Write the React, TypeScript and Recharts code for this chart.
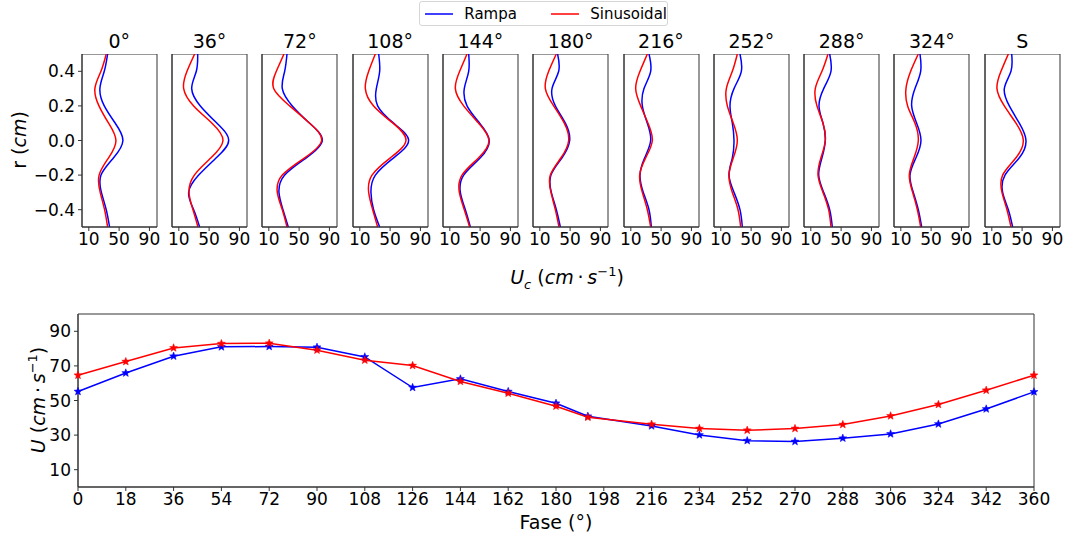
import React from "react";
import {
  LineChart,
  Line,
  XAxis,
  YAxis,
  ReferenceArea,
} from "recharts";

// radial positions (cm), shared by every profile
const RADII = [0.5, 0.4, 0.3, 0.2, 0.1, 0, -0.1, -0.2, -0.3, -0.4, -0.5];

const PHASE_TITLES = ["0°", "36°", "72°", "108°", "144°", "180°", "216°", "252°", "288°", "324°", "S"];

// Uc profiles (cm/s) per phase, top (r=0.5) to bottom (r=-0.5)
const RAMPA_0 = [34.8, 30.4, 24.6, 30.4, 44.9, 55.0, 42.7, 26.1, 26.6, 33.0, 37.4];
const SINUS_0 = [33.0, 26.0, 18.0, 23.4, 36.1, 45.8, 36.1, 23.6, 25.0, 30.8, 34.8];
const RAMPA_36 = [34.9, 33.1, 27.0, 38.4, 60.4, 75.8, 59.5, 36.2, 23.0, 29.6, 37.5];
const SINUS_36 = [30.9, 20.8, 16.4, 29.6, 53.8, 68.3, 52.5, 30.5, 23.4, 28.7, 35.3];
const RAMPA_72 = [34.0, 30.9, 27.8, 41.0, 63.9, 80.6, 59.5, 30.9, 23.4, 28.7, 35.7];
const SINUS_72 = [30.0, 19.9, 16.4, 37.5, 63.9, 79.7, 57.3, 27.8, 21.2, 27.8, 34.0];
const RAMPA_108 = [34.9, 36.2, 31.8, 33.5, 54.6, 74.4, 54.6, 30.5, 24.7, 28.2, 36.2];
const SINUS_108 = [30.5, 21.7, 17.3, 28.2, 53.8, 70.9, 50.3, 26.1, 21.7, 27.0, 33.5];
const RAMPA_144 = [34.9, 34.9, 29.1, 32.7, 49.4, 62.1, 50.3, 28.3, 23.9, 30.5, 37.1];
const SINUS_144 = [32.7, 23.0, 17.3, 28.3, 48.1, 61.7, 48.1, 26.1, 22.6, 29.1, 36.2];
const RAMPA_180 = [33.5, 34.9, 26.1, 30.5, 43.7, 49.4, 39.3, 24.7, 25.2, 31.8, 37.1];
const SINUS_180 = [31.8, 21.7, 17.3, 28.3, 42.3, 48.1, 38.0, 23.9, 24.7, 30.5, 35.3];
const RAMPA_216 = [34.0, 36.2, 27.4, 25.2, 31.8, 36.2, 28.3, 22.1, 26.5, 34.0, 37.1];
const SINUS_216 = [31.8, 22.1, 16.4, 23.0, 32.7, 38.4, 29.6, 21.7, 25.2, 31.8, 36.2];
const RAMPA_252 = [35.3, 37.1, 27.4, 22.1, 25.2, 27.4, 25.2, 20.8, 27.4, 35.3, 38.4];
const SINUS_252 = [31.8, 25.2, 17.3, 18.6, 26.5, 31.8, 26.5, 20.8, 25.2, 32.7, 36.2];
const RAMPA_288 = [34.9, 36.6, 27.0, 20.8, 26.1, 29.1, 24.7, 20.4, 27.0, 34.9, 38.4];
const SINUS_288 = [32.7, 24.7, 15.9, 18.1, 26.1, 29.1, 23.4, 19.5, 26.1, 33.5, 36.6];
const RAMPA_324 = [35.3, 36.2, 28.7, 24.3, 30.9, 36.6, 30.0, 22.1, 26.5, 33.1, 37.5];
const SINUS_324 = [33.1, 23.0, 16.8, 19.0, 28.7, 33.1, 27.4, 21.2, 25.6, 31.8, 36.2];
const RAMPA_S = [36.2, 35.3, 26.5, 33.1, 46.3, 55.1, 46.3, 27.4, 24.3, 31.8, 37.5];
const SINUS_S = [31.8, 22.1, 16.8, 26.5, 41.9, 51.6, 41.9, 24.3, 23.4, 30.0, 35.3];

const RAMPA_PANELS = [RAMPA_0, RAMPA_36, RAMPA_72, RAMPA_108, RAMPA_144, RAMPA_180, RAMPA_216, RAMPA_252, RAMPA_288, RAMPA_324, RAMPA_S];
const SINUS_PANELS = [SINUS_0, SINUS_36, SINUS_72, SINUS_108, SINUS_144, SINUS_180, SINUS_216, SINUS_252, SINUS_288, SINUS_324, SINUS_S];

// mean velocity against phase
const PHASES = [0, 18, 36, 54, 72, 90, 108, 126, 144, 162, 180, 192, 216, 234, 252, 270, 288, 306, 324, 342, 360];
const U_RAMPA = [55.2, 65.9, 75.6, 81.0, 81.2, 80.8, 75.2, 57.5, 62.5, 55.2, 48.4, 40.9, 35.3, 30.1, 26.8, 26.3, 28.2, 30.7, 36.4, 45.1, 55.0];
const U_SINUS = [64.6, 72.5, 80.4, 82.9, 83.1, 79.1, 73.3, 70.2, 61.0, 54.2, 46.7, 40.3, 36.3, 33.8, 32.8, 33.8, 36.1, 41.1, 47.7, 55.9, 64.6];

const PHASE_TICKS = [0, 18, 36, 54, 72, 90, 108, 126, 144, 162, 180, 198, 216, 234, 252, 270, 288, 306, 324, 342, 360];
const U_TICKS = [10, 30, 50, 70, 90];
const R_TICKS = [-0.4, -0.2, 0, 0.2, 0.4];
const UC_TICKS = [10, 50, 90];

const BLUE = "#0000ff";
const RED = "#ff0000";
const SPINE = "#333";
const FONT = "'DejaVu Sans', sans-serif";

const PANEL_X0 = 81.7;
const PANEL_STEP = 90.3;
const PANEL_W = 75;
const PANEL_TOP = 54;
const PANEL_H = 173;
const AXIS_W = 60;

const fmtR = (v: number) => v.toFixed(1).replace("-", "\u2212");

function Star(props: any) {
  const { cx, cy, stroke } = props;
  if (cx == null || cy == null) return null;
  const pts: string[] = [];
  for (let i = 0; i < 10; i++) {
    const rad = i % 2 === 0 ? 4.2 : 1.8;
    const a = -Math.PI / 2 + (i * Math.PI) / 5;
    pts.push(`${cx + rad * Math.cos(a)},${cy + rad * Math.sin(a)}`);
  }
  return <polygon points={pts.join(" ")} fill={stroke} stroke={stroke} strokeWidth={0.5} />;
}

function ProfilePanel({ idx }: { idx: number }) {
  const rampa = RAMPA_PANELS[idx];
  const sinus = SINUS_PANELS[idx];
  const rows = RADII.map((r, i) => ({ r, rampa: rampa[i], sinus: sinus[i] }));
  const left = PANEL_X0 + PANEL_STEP * idx;
  const tickStyle = { fontSize: 17, fill: "#000", fontFamily: FONT };

  return (
    <>
      <div
        style={{
          position: "absolute",
          left: left - 20,
          width: PANEL_W + 40,
          top: 32,
          textAlign: "center",
          fontSize: 19,
          lineHeight: "19px",
          fontFamily: FONT,
        }}
      >
        {PHASE_TITLES[idx]}
      </div>
      <div style={{ position: "absolute", left: left - AXIS_W, top: PANEL_TOP }}>
        <LineChart
          layout="vertical"
          width={AXIS_W + PANEL_W + 6}
          height={PANEL_H + 26}
          data={rows}
          margin={{ top: 0, right: 6, left: 0, bottom: 0 }}
        >
          <XAxis
            type="number"
            domain={[1, 100]}
            ticks={UC_TICKS}
            tick={tickStyle}
            tickSize={4}
            tickMargin={2}
            height={26}
            stroke={SPINE}
            allowDataOverflow
          />
          <YAxis
            type="number"
            dataKey="r"
            domain={[-0.5, 0.5]}
            reversed
            ticks={R_TICKS}
            tick={idx === 0 ? tickStyle : false}
            tickFormatter={fmtR}
            tickSize={4}
            tickMargin={3}
            width={AXIS_W}
            stroke={SPINE}
          />
          <ReferenceArea x1={1} x2={100} y1={-0.5} y2={0.5} fill="none" stroke={SPINE} strokeWidth={1} />
          <Line type="natural" dataKey="rampa" stroke={BLUE} strokeWidth={1.5} dot={false} isAnimationActive={false} />
          <Line type="natural" dataKey="sinus" stroke={RED} strokeWidth={1.5} dot={false} isAnimationActive={false} />
        </LineChart>
      </div>
    </>
  );
}

export default function App() {
  const phaseRows = PHASES.map((p, i) => ({ fase: p, rampa: U_RAMPA[i], sinus: U_SINUS[i] }));
  const tickStyle = { fontSize: 17, fill: "#000", fontFamily: FONT };

  return (
    <div
      style={{
        position: "absolute",
        left: 0,
        top: 0,
        width: 1079,
        height: 539,
        background: "#fff",
        fontFamily: FONT,
        overflow: "hidden",
      }}
    >
      {/* legend */}
      <div
        style={{
          position: "absolute",
          left: 419,
          top: 1,
          width: 249,
          height: 25,
          boxSizing: "border-box",
          border: "1px solid #d6d6d6",
          borderRadius: 3,
          fontSize: 15,
          display: "flex",
          alignItems: "center",
        }}
      >
        <svg width={30} height={4} style={{ marginLeft: 5 }}>
          <line x1={0} y1={2} x2={30} y2={2} stroke={BLUE} strokeWidth={1.5} />
        </svg>
        <span style={{ marginLeft: 11 }}>Rampa</span>
        <svg width={30} height={4} style={{ marginLeft: 34 }}>
          <line x1={0} y1={2} x2={30} y2={2} stroke={RED} strokeWidth={1.5} />
        </svg>
        <span style={{ marginLeft: 11 }}>Sinusoidal</span>
      </div>

      {PHASE_TITLES.map((_, i) => (
        <ProfilePanel key={i} idx={i} />
      ))}

      {/* top y label */}
      <div
        style={{
          position: "absolute",
          left: 19,
          top: 140,
          transform: "translate(-50%, -50%) rotate(-90deg)",
          fontSize: 19,
          whiteSpace: "nowrap",
        }}
      >
        r (<i>cm</i>)
      </div>

      {/* top x label */}
      <div
        style={{
          position: "absolute",
          left: 567,
          top: 278,
          transform: "translate(-50%, -50%)",
          fontSize: 19,
          whiteSpace: "nowrap",
        }}
      >
        <i>U</i>
        <sub style={{ fontSize: 13 }}>
          <i>c</i>
        </sub>{" "}
        (<i>cm</i>{"\u2009·\u2009"}<i>s</i>
        <sup style={{ fontSize: 13 }}>−1</sup>)
      </div>

      {/* phase chart */}
      <div style={{ position: "absolute", left: 0, top: 304 }}>
        <LineChart
          width={1079}
          height={218}
          data={phaseRows}
          margin={{ top: 10, right: 45, left: 38, bottom: 5 }}
        >
          <XAxis
            type="number"
            dataKey="fase"
            domain={[0, 360]}
            ticks={PHASE_TICKS}
            tick={tickStyle}
            tickSize={4}
            tickMargin={2}
            height={30}
            stroke={SPINE}
            interval={0}
          />
          <YAxis
            type="number"
            domain={[0, 100]}
            ticks={U_TICKS}
            tick={tickStyle}
            tickSize={4}
            tickMargin={3}
            width={40}
            stroke={SPINE}
          />
          <ReferenceArea x1={0} x2={360} y1={0} y2={100} fill="none" stroke={SPINE} strokeWidth={1} />
          <Line
            type="linear"
            dataKey="rampa"
            stroke={BLUE}
            strokeWidth={1.5}
            dot={<Star />}
            isAnimationActive={false}
          />
          <Line
            type="linear"
            dataKey="sinus"
            stroke={RED}
            strokeWidth={1.5}
            dot={<Star />}
            isAnimationActive={false}
          />
        </LineChart>
      </div>

      {/* bottom labels */}
      <div
        style={{
          position: "absolute",
          left: 37,
          top: 400,
          transform: "translate(-50%, -50%) rotate(-90deg)",
          fontSize: 19,
          whiteSpace: "nowrap",
        }}
      >
        <i>U</i> (<i>cm</i>{"\u2009·\u2009"}<i>s</i>
        <sup style={{ fontSize: 13 }}>−1</sup>)
      </div>
      <div
        style={{
          position: "absolute",
          left: 556,
          top: 522,
          transform: "translate(-50%, -50%)",
          fontSize: 19,
          whiteSpace: "nowrap",
        }}
      >
        Fase (°)
      </div>
    </div>
  );
}
